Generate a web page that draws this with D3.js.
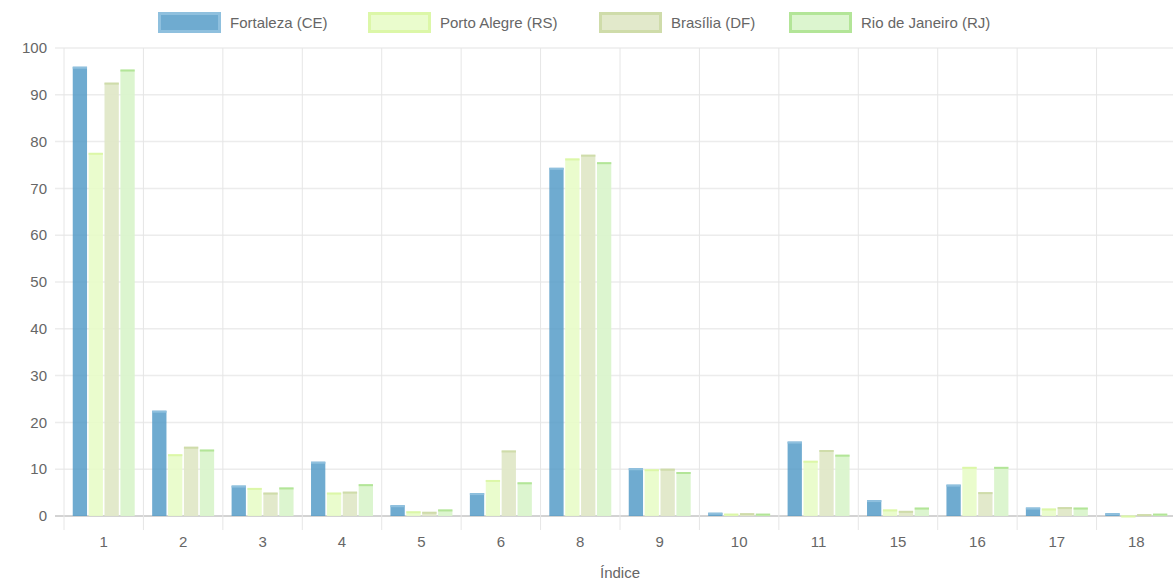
<!doctype html>
<html lang="pt">
<head>
<meta charset="UTF-8">
<title>Índice por cidade</title>
<script src="https://d3js.org/d3.v7.min.js"></script>
<style>
  body { margin: 0; background: #fff; }
  text { font-family: "Liberation Sans", Arial, sans-serif; fill: #666; }
</style>
</head>
<body>
<div id="chart"></div>
<script>
// categorias do eixo x
var categories = ["1", "2", "3", "4", "5", "6", "8", "9", "10", "11", "15", "16", "17", "18"];
var seriesNames = ["Fortaleza (CE)", "Porto Alegre (RS)", "Brasília (DF)", "Rio de Janeiro (RJ)"];
var fortaleza   = [96, 22.5, 6.5, 11.6, 2.3, 4.9, 74.4, 10.2, 0.7, 15.9, 3.4, 6.7, 1.8, 0.6];
var portoAlegre = [77.6, 13.2, 6.0, 5.0, 1.0, 7.7, 76.4, 10.0, 0.5, 11.8, 1.4, 10.5, 1.6, 0.1];
var brasilia    = [92.6, 14.8, 5.0, 5.2, 0.9, 14.0, 77.2, 10.1, 0.6, 14.1, 1.1, 5.1, 1.9, 0.4];
var rio         = [95.4, 14.2, 6.1, 6.8, 1.4, 7.2, 75.6, 9.4, 0.5, 13.1, 1.8, 10.5, 1.8, 0.5];
var yTicks = [0, 10, 20, 30, 40, 50, 60, 70, 80, 90, 100];

var fills   = ["rgba(79,152,198,0.82)", "rgba(232,252,200,0.9)", "rgba(224,232,200,0.95)", "rgba(218,244,204,0.95)"];
var strokes = ["#8fc0de", "#dcf7a8", "#cfdcaa", "#b3e598"];

var width = 1173, height = 583;
var margin = {top: 48, right: -3, bottom: 67, left: 64};

var svg = d3.select("#chart").append("svg")
    .attr("width", width)
    .attr("height", height);

var allSeries = [fortaleza, portoAlegre, brasilia, rio];

var x = d3.scaleBand()
    .domain(categories)
    .range([margin.left, width - margin.right])
    .paddingInner(0)
    .paddingOuter(0);

var x1 = d3.scaleBand()
    .domain(d3.range(seriesNames.length))
    .range([x.bandwidth() * 0.1, x.bandwidth() * 0.9])
    .padding(0);

var y = d3.scaleLinear()
    .domain([0, 100])
    .range([height - margin.bottom, margin.top]);

// grade horizontal
svg.append("g").selectAll("line")
    .data(yTicks)
    .enter().append("line")
    .attr("x1", margin.left - 9)
    .attr("x2", width)
    .attr("y1", function(d) { return y(d); })
    .attr("y2", function(d) { return y(d); })
    .attr("stroke", function(d) { return d === 0 ? "#c4c4c4" : "#ececec"; })
    .attr("stroke-width", function(d) { return d === 0 ? 1.5 : 1.5; });

// grade vertical
var bounds = categories.map(function(c) { return x(c); });
svg.append("g").selectAll("line")
    .data(bounds)
    .enter().append("line")
    .attr("x1", function(d) { return d; })
    .attr("x2", function(d) { return d; })
    .attr("y1", margin.top)
    .attr("y2", y(0) + 14)
    .attr("stroke", "#e6e6e6")
    .attr("stroke-width", 1);

// rótulos do eixo y
svg.append("g").selectAll("text")
    .data(yTicks)
    .enter().append("text")
    .attr("x", margin.left - 17)
    .attr("y", function(d) { return y(d); })
    .attr("dy", "0.35em")
    .attr("text-anchor", "end")
    .attr("font-size", 15)
    .text(function(d) { return d; });

// rótulos do eixo x
svg.append("g").selectAll("text")
    .data(categories)
    .enter().append("text")
    .attr("x", function(d) { return x(d) + x.bandwidth() / 2; })
    .attr("y", y(0) + 31)
    .attr("text-anchor", "middle")
    .attr("font-size", 15)
    .text(function(d) { return d; });

svg.append("text")
    .attr("x", (margin.left + width - margin.right) / 2)
    .attr("y", 578)
    .attr("text-anchor", "middle")
    .attr("font-size", 15)
    .text("Índice");

// barras
allSeries.forEach(function(vals, s) {
    var bw = x1.bandwidth() * 0.9;
    svg.append("g").selectAll("rect")
        .data(vals)
        .enter().append("rect")
        .attr("x", function(d, i) { return x(categories[i]) + x1(s) + (x1.bandwidth() - bw) / 2; })
        .attr("y", function(d) { return y(d); })
        .attr("width", bw)
        .attr("height", function(d) { return y(0) - y(d); })
        .attr("fill", fills[s]);
    svg.append("g").selectAll("line")
        .data(vals)
        .enter().append("line")
        .attr("x1", function(d, i) { return x(categories[i]) + x1(s) + (x1.bandwidth() - bw) / 2; })
        .attr("x2", function(d, i) { return x(categories[i]) + x1(s) + (x1.bandwidth() + bw) / 2; })
        .attr("y1", function(d) { return y(d) + 1; })
        .attr("y2", function(d) { return y(d) + 1; })
        .attr("stroke", strokes[s])
        .attr("stroke-width", 2);
});

// legenda
var legendX = [158, 368, 599, 789];
var legend = svg.append("g");
seriesNames.forEach(function(name, i) {
    legend.append("rect")
        .attr("x", legendX[i] + 1.5)
        .attr("y", 13.5)
        .attr("width", 60)
        .attr("height", 18)
        .attr("fill", fills[i])
        .attr("stroke", strokes[i])
        .attr("stroke-width", 3);
    legend.append("text")
        .attr("x", legendX[i] + 72)
        .attr("y", 23)
        .attr("dy", "0.35em")
        .attr("font-size", 15)
        .text(name);
});
</script>
</body>
</html>
